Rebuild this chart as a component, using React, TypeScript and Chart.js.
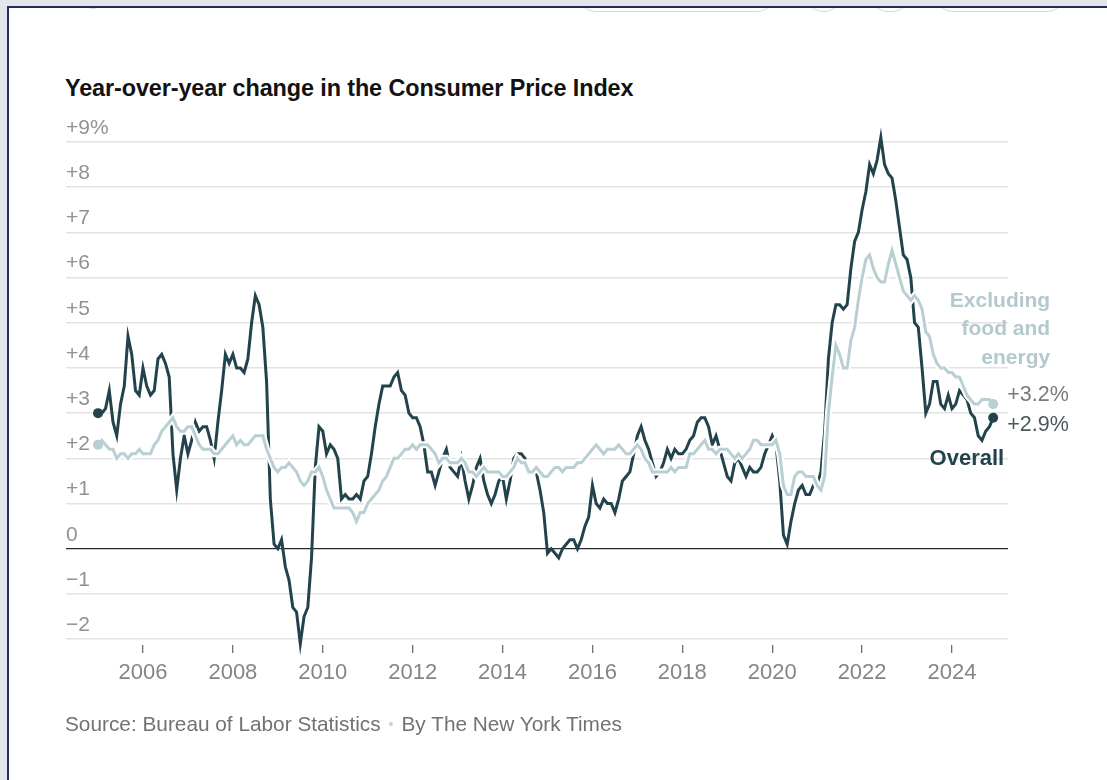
import React, { useEffect, useRef } from "react";
import { Chart, registerables } from "chart.js";

Chart.register(...registerables);

// Monthly data, January 2005 through December 2024 (year-over-year % change)
const startYear = 2005;

const overall: number[] = [
  3.0, 3.0, 3.1, 3.5, 2.8, 2.5, 3.2, 3.6, 4.7, 4.3, 3.5, 3.4, // 2005
  4.0, 3.6, 3.4, 3.5, 4.2, 4.3, 4.1, 3.8, 2.1, 1.3, 2.0, 2.5, // 2006
  2.1, 2.4, 2.8, 2.6, 2.7, 2.7, 2.4, 2.0, 2.8, 3.5, 4.3, 4.1, // 2007
  4.3, 4.0, 4.0, 3.9, 4.2, 5.0, 5.6, 5.4, 4.9, 3.7, 1.1, 0.1, // 2008
  0.0, 0.2, -0.4, -0.7, -1.3, -1.4, -2.1, -1.5, -1.3, -0.2, 1.8, 2.7, // 2009
  2.6, 2.1, 2.3, 2.2, 2.0, 1.1, 1.2, 1.1, 1.1, 1.2, 1.1, 1.5, // 2010
  1.6, 2.1, 2.7, 3.2, 3.6, 3.6, 3.6, 3.8, 3.9, 3.5, 3.4, 3.0, // 2011
  2.9, 2.9, 2.7, 2.3, 1.7, 1.7, 1.4, 1.7, 2.0, 2.2, 1.8, 1.7, // 2012
  1.6, 2.0, 1.5, 1.1, 1.4, 1.8, 2.0, 1.5, 1.2, 1.0, 1.2, 1.5, // 2013
  1.6, 1.1, 1.5, 2.0, 2.1, 2.1, 2.0, 1.7, 1.7, 1.7, 1.3, 0.8, // 2014
  -0.1, 0.0, -0.1, -0.2, 0.0, 0.1, 0.2, 0.2, 0.0, 0.2, 0.5, 0.7, // 2015
  1.4, 1.0, 0.9, 1.1, 1.0, 1.0, 0.8, 1.1, 1.5, 1.6, 1.7, 2.1, // 2016
  2.5, 2.7, 2.4, 2.2, 1.9, 1.6, 1.7, 1.9, 2.2, 2.0, 2.2, 2.1, // 2017
  2.1, 2.2, 2.4, 2.5, 2.8, 2.9, 2.9, 2.7, 2.3, 2.5, 2.2, 1.9, // 2018
  1.6, 1.5, 1.9, 2.0, 1.8, 1.6, 1.8, 1.7, 1.7, 1.8, 2.1, 2.3, // 2019
  2.5, 2.3, 1.5, 0.3, 0.1, 0.6, 1.0, 1.3, 1.4, 1.2, 1.2, 1.4, // 2020
  1.4, 1.7, 2.6, 4.2, 5.0, 5.4, 5.4, 5.3, 5.4, 6.2, 6.8, 7.0, // 2021
  7.5, 7.9, 8.5, 8.3, 8.6, 9.1, 8.5, 8.3, 8.2, 7.7, 7.1, 6.5, // 2022
  6.4, 6.0, 5.0, 4.9, 4.0, 3.0, 3.2, 3.7, 3.7, 3.2, 3.1, 3.4, // 2023
  3.1, 3.2, 3.5, 3.4, 3.3, 3.0, 2.9, 2.5, 2.4, 2.6, 2.7, 2.9, // 2024
];

const core: number[] = [
  2.3, 2.4, 2.3, 2.2, 2.2, 2.0, 2.1, 2.1, 2.0, 2.1, 2.1, 2.2, // 2005
  2.1, 2.1, 2.1, 2.3, 2.4, 2.6, 2.7, 2.8, 2.9, 2.7, 2.6, 2.6, // 2006
  2.7, 2.7, 2.5, 2.3, 2.2, 2.2, 2.2, 2.1, 2.1, 2.2, 2.3, 2.4, // 2007
  2.5, 2.3, 2.4, 2.3, 2.3, 2.4, 2.5, 2.5, 2.5, 2.2, 2.0, 1.8, // 2008
  1.7, 1.8, 1.8, 1.9, 1.8, 1.7, 1.5, 1.4, 1.5, 1.7, 1.7, 1.8, // 2009
  1.6, 1.3, 1.1, 0.9, 0.9, 0.9, 0.9, 0.9, 0.8, 0.6, 0.8, 0.8, // 2010
  1.0, 1.1, 1.2, 1.3, 1.5, 1.6, 1.8, 2.0, 2.0, 2.1, 2.2, 2.2, // 2011
  2.3, 2.2, 2.3, 2.3, 2.3, 2.2, 2.1, 1.9, 2.0, 2.0, 1.9, 1.9, // 2012
  1.9, 2.0, 1.9, 1.7, 1.7, 1.6, 1.7, 1.8, 1.7, 1.7, 1.7, 1.7, // 2013
  1.6, 1.6, 1.7, 1.8, 2.0, 1.9, 1.9, 1.7, 1.7, 1.8, 1.7, 1.6, // 2014
  1.6, 1.7, 1.8, 1.8, 1.7, 1.8, 1.8, 1.8, 1.9, 1.9, 2.0, 2.1, // 2015
  2.2, 2.3, 2.2, 2.1, 2.2, 2.2, 2.2, 2.3, 2.2, 2.1, 2.1, 2.2, // 2016
  2.3, 2.2, 2.0, 1.9, 1.7, 1.7, 1.7, 1.7, 1.7, 1.8, 1.7, 1.8, // 2017
  1.8, 1.8, 2.1, 2.1, 2.2, 2.3, 2.4, 2.2, 2.2, 2.1, 2.2, 2.2, // 2018
  2.2, 2.1, 2.0, 2.1, 2.0, 2.1, 2.2, 2.4, 2.4, 2.3, 2.3, 2.3, // 2019
  2.3, 2.4, 2.1, 1.4, 1.2, 1.2, 1.6, 1.7, 1.7, 1.6, 1.6, 1.6, // 2020
  1.4, 1.3, 1.6, 3.0, 3.8, 4.5, 4.3, 4.0, 4.0, 4.6, 4.9, 5.5, // 2021
  6.0, 6.4, 6.5, 6.2, 6.0, 5.9, 5.9, 6.3, 6.6, 6.3, 6.0, 5.7, // 2022
  5.6, 5.5, 5.6, 5.5, 5.3, 4.8, 4.7, 4.3, 4.1, 4.0, 4.0, 3.9, // 2023
  3.9, 3.8, 3.8, 3.6, 3.4, 3.3, 3.2, 3.2, 3.3, 3.3, 3.3, 3.2, // 2024
];

const yTickValues: number[] = [-2, -1, 0, 1, 2, 3, 4, 5, 6, 7, 8, 9];
const xTickValues: number[] = [2006, 2008, 2010, 2012, 2014, 2016, 2018, 2020, 2022, 2024];

const titleText = "Year-over-year change in the Consumer Price Index";
const coreLabelLines = ["Excluding", "food and", "energy"];
const overallLabel = "Overall";
const sourceText = "Source: Bureau of Labor Statistics";
const creditText = "By The New York Times";

const DARK = "#23434c";
const LIGHT = "#b8cfd4";
const SANS = "'Liberation Sans', Arial, sans-serif";

const toPoints = (arr: number[]) => arr.map((v, i) => ({ x: startYear + i / 12, y: v }));

const endPointRadius = (r: number) => (ctx: any) =>
  ctx.dataIndex === 0 || ctx.dataIndex === ctx.dataset.data.length - 1 ? r : 0;

const yLabel = (v: number) => {
  if (v === 9) return "+9%";
  if (v > 0) return "+" + v;
  if (v === 0) return "0";
  return "\u2212" + Math.abs(v);
};

const annotationPlugin = {
  id: "endLabels",
  afterDatasetsDraw(chart: any) {
    const { ctx, scales } = chart;
    const xs = scales.x;
    const ys = scales.y;
    const n = overall.length - 1;
    const lx = xs.getPixelForValue(startYear + n / 12);
    const yc = ys.getPixelForValue(core[n]);
    const yo = ys.getPixelForValue(overall[n]);
    ctx.save();
    ctx.textBaseline = "middle";
    ctx.textAlign = "left";
    ctx.font = `21.5px ${SANS}`;
    ctx.fillStyle = "#7a7a7a";
    ctx.fillText(`+${core[n].toFixed(1)}%`, lx + 14, yc - 9);
    ctx.fillStyle = "#4b585c";
    ctx.fillText(`+${overall[n].toFixed(1)}%`, lx + 14, yo + 7);

    ctx.textAlign = "right";
    ctx.font = `bold 21px ${SANS}`;
    ctx.fillStyle = "#b3c9ce";
    const offsets = [-103, -75, -46];
    coreLabelLines.forEach((t, i) => ctx.fillText(t, lx + 57, yc + offsets[i]));
    ctx.fillStyle = DARK;
    ctx.font = `bold 22px ${SANS}`;
    ctx.fillText(overallLabel, lx + 11, yo + 41);
    ctx.restore();
  },
};

const pills = [
  { left: 80, width: 26, bottom: 9 },
  { left: 578, width: 197, bottom: 12 },
  { left: 805, width: 37, bottom: 12 },
  { left: 870, width: 40, bottom: 12 },
  { left: 935, width: 130, bottom: 12 },
];

export default function App() {
  const canvasRef = useRef<HTMLCanvasElement | null>(null);

  useEffect(() => {
    const canvas = canvasRef.current;
    if (!canvas) return;
    const chart = new Chart(canvas, {
      type: "line",
      data: {
        datasets: [
          {
            label: "Overall",
            data: toPoints(overall),
            borderColor: DARK,
            backgroundColor: DARK,
            borderWidth: 3,
            pointRadius: endPointRadius(5),
            pointBackgroundColor: DARK,
            pointBorderWidth: 0,
            tension: 0,
            order: 3,
            clip: false as any,
          },
          {
            label: "halo",
            data: toPoints(core),
            borderColor: "#ffffff",
            borderWidth: 7,
            pointRadius: 0,
            tension: 0,
            order: 2,
            clip: false as any,
          },
          {
            label: "Excluding food and energy",
            data: toPoints(core),
            borderColor: LIGHT,
            backgroundColor: LIGHT,
            borderWidth: 3,
            pointRadius: endPointRadius(5),
            pointBackgroundColor: LIGHT,
            pointBorderWidth: 0,
            tension: 0,
            order: 1,
            clip: false as any,
          },
        ],
      },
      options: {
        animation: false,
        responsive: false,
        devicePixelRatio: 1,
        events: [],
        layout: { padding: { left: 66, right: 99, top: 130.7, bottom: 75 } },
        plugins: {
          legend: { display: false },
          tooltip: { enabled: false },
          title: { display: false },
        },
        scales: {
          x: {
            type: "linear",
            min: 2004.287,
            max: 2025.246,
            afterBuildTicks: (s: any) => {
              s.ticks = xTickValues.map((v) => ({ value: v }));
            },
            afterFit: (s: any) => {
              s.height = 60;
            },
            grid: {
              drawOnChartArea: false,
              drawTicks: true,
              tickLength: 8,
              color: "#6f6f6f",
              lineWidth: 1.3,
            },
            border: { display: false },
            ticks: {
              autoSkip: false,
              maxRotation: 0,
              padding: 7,
              color: "#858585",
              font: { family: SANS, size: 22 },
              callback: (v: any) => String(v),
            },
          },
          y: {
            type: "linear",
            min: -2.13,
            max: 9.25,
            afterBuildTicks: (s: any) => {
              s.ticks = yTickValues.map((v) => ({ value: v }));
            },
            afterFit: (s: any) => {
              s.width = 0;
            },
            grid: {
              drawTicks: false,
              color: (c: any) => (c.tick && c.tick.value === 0 ? "#2a2a2a" : "#e3e3e3"),
              lineWidth: (c: any) => (c.tick && c.tick.value === 0 ? 1.3 : 1.4),
            },
            border: { display: false },
            ticks: {
              mirror: true,
              padding: 0,
              labelOffset: -14,
              color: "#929292",
              font: { family: SANS, size: 21 },
              callback: (v: any) => yLabel(Number(v)),
            },
          },
        },
      },
      plugins: [annotationPlugin],
    });
    return () => chart.destroy();
  }, []);

  return (
    <div
      style={{
        position: "fixed",
        left: 0,
        top: 0,
        width: 1107,
        height: 780,
        background: "#e3e5ea",
        overflow: "hidden",
      }}
    >
      <div
        style={{
          position: "absolute",
          left: 7,
          top: 6,
          width: 1120,
          height: 800,
          background: "#ffffff",
          borderLeft: "2.5px solid #262a5c",
          borderTop: "2.5px solid #262a5c",
          overflow: "hidden",
        }}
      >
        {pills.map((p, i) => (
          <div
            key={i}
            style={{
              position: "absolute",
              left: p.left - 9,
              top: p.bottom - 8.5 - 40,
              width: p.width,
              height: 40,
              border: "1px solid #d6d6d6",
              borderRadius: 18,
              boxSizing: "border-box",
              background: "#fff",
            }}
          />
        ))}
      </div>
      <div
        style={{
          position: "absolute",
          left: 65,
          top: 74,
          fontFamily: SANS,
          fontWeight: 700,
          fontSize: 23.4,
          letterSpacing: "-0.1px",
          color: "#121212",
          whiteSpace: "nowrap",
          lineHeight: "28px",
        }}
      >
        {titleText}
      </div>
      <canvas
        ref={canvasRef}
        width={1107}
        height={780}
        style={{ position: "absolute", left: 0, top: 0, width: 1107, height: 780 }}
      />
      <div
        style={{
          position: "absolute",
          left: 65,
          top: 711,
          fontFamily: SANS,
          fontSize: 20.8,
          color: "#727272",
          whiteSpace: "nowrap",
          lineHeight: "26px",
        }}
      >
        {sourceText}
        <span style={{ color: "#cfcfcf", margin: "0 8px", fontSize: 14, verticalAlign: "2px" }}>•</span>
        {creditText}
      </div>
    </div>
  );
}
